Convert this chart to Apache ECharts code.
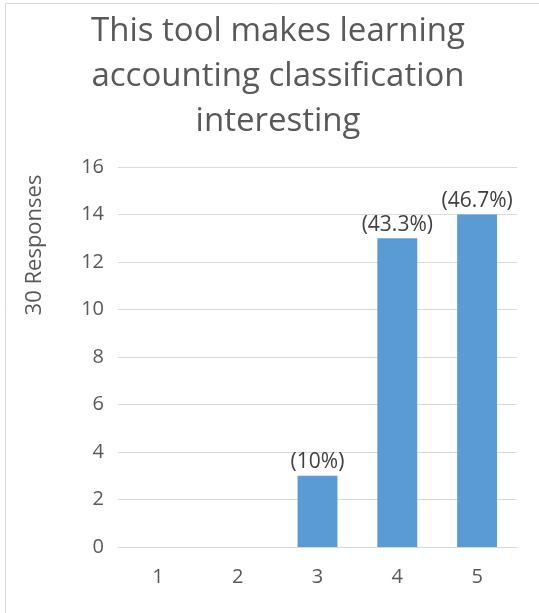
<!DOCTYPE html>
<html>
<head>
<meta charset="utf-8">
<script src="https://cdn.jsdelivr.net/npm/echarts@6/dist/echarts.min.js"></script>
<style>
  html, body { margin: 0; padding: 0; background: #fff; }
  #chart { width: 539px; height: 613px; }
</style>
</head>
<body>
<div id="chart"></div>
<script>
// Survey: "This tool makes learning accounting classification interesting"
const categories = ['1', '2', '3', '4', '5'];
const responses = [0, 0, 3, 13, 14];
const percentLabels = ['', '', '(10%)', '(43.3%)', '(46.7%)'];
const yTicks = [0, 2, 4, 6, 8, 10, 12, 14, 16];

const FONT = '"Open Sans", "Liberation Sans", sans-serif';
const chart = echarts.init(document.getElementById('chart'));

chart.setOption({
  animation: false,
  backgroundColor: '#ffffff',
  title: {
    text: 'This tool makes learning\naccounting classification\ninteresting',
    left: 273,
    textAlign: 'center',
    top: 4,
    textStyle: {
      fontFamily: FONT,
      fontSize: 33,
      fontWeight: 'normal',
      color: '#595959',
      lineHeight: 45
    }
  },
  graphic: [
    {
      type: 'rect',
      shape: { x: 5.5, y: 3.5, width: 540, height: 620 },
      style: { fill: 'none', stroke: '#d9d9d9', lineWidth: 1 },
      silent: true
    },
    {
      type: 'text',
      x: 35,
      y: 245,
      rotation: Math.PI / 2,
      style: {
        text: '30 Responses',
        fontFamily: FONT,
        fontSize: 22,
        fill: '#595959',
        textAlign: 'center',
        textVerticalAlign: 'middle'
      }
    }
  ],
  grid: { left: 118, right: 22, top: 167, bottom: 66 },
  xAxis: {
    type: 'category',
    data: categories,
    axisLine: { show: true, lineStyle: { color: '#d9d9d9', width: 1 } },
    axisTick: { show: false },
    axisLabel: {
      color: '#595959',
      fontFamily: FONT,
      fontSize: 20,
      margin: 20
    }
  },
  yAxis: {
    type: 'value',
    min: yTicks[0],
    max: yTicks[yTicks.length - 1],
    interval: 2,
    axisLine: { show: false },
    axisTick: { show: false },
    splitLine: { lineStyle: { color: '#d9d9d9', width: 1 } },
    axisLabel: {
      color: '#595959',
      fontFamily: FONT,
      fontSize: 20,
      margin: 14
    }
  },
  series: [{
    type: 'bar',
    data: responses,
    barWidth: '50%',
    itemStyle: { color: '#5b9bd5' },
    label: {
      show: true,
      position: 'top',
      distance: 3,
      fontFamily: FONT,
      fontSize: 21,
      color: '#404040',
      formatter: p => percentLabels[p.dataIndex]
    }
  }]
});
</script>
</body>
</html>
